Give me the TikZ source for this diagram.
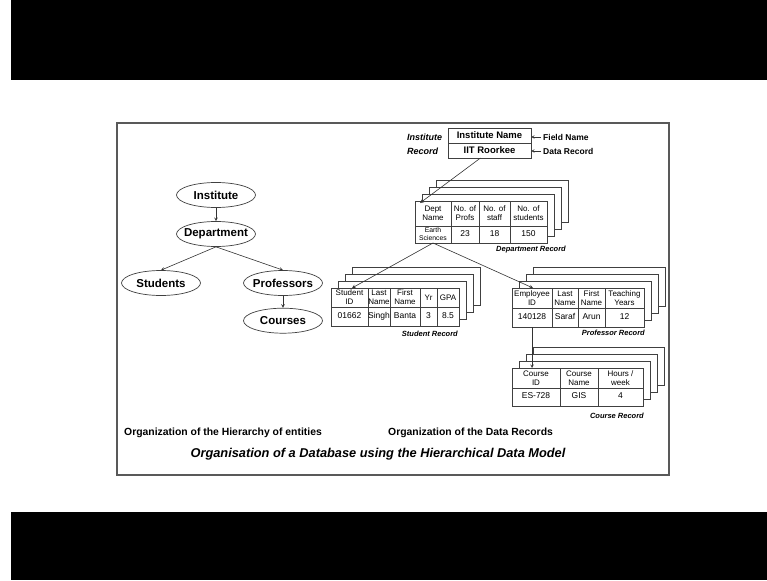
\documentclass[tikz,border=0pt]{standalone}
\usepackage{fontspec}
\setmainfont{Liberation Sans}
\usetikzlibrary{shapes.geometric,positioning}

\tikzset{
  entity/.style={ellipse, draw=black!75, line width=0.7pt, minimum width=79pt, minimum height=25pt, inner sep=0pt, font=\fontsize{11.5}{12}\selectfont\bfseries},
  cell/.style={draw=black!75, fill=white, line width=0.6pt, inner sep=0pt, outer sep=0pt, align=center, anchor=north west, font=\fontsize{8}{9}\selectfont},
  sheet/.style={draw=black!75, fill=white, line width=0.6pt},
  reclabel/.style={anchor=east, inner sep=0pt, font=\fontsize{7.5}{9}\selectfont\bfseries\itshape},
  caption/.style={anchor=west, inner sep=0pt, font=\fontsize{10.4}{12}\selectfont\bfseries},
  link/.style={->, draw=black!80, line width=0.6pt},
}

% keeps the ellipse at its minimum size
\newcommand{\ent}[1]{\makebox[40pt]{#1}}
% small two line entry in a data cell
\newcommand{\twoline}[2]{\raisebox{-4.2pt}[6pt][2pt]{\fontsize{6.8}{7}\selectfont\shortstack{#1\\#2}}}

% stack of three sheets behind a record
\newcommand{\sheetstack}[4]{%
  \foreach \k in {3,2,1}
    \draw[sheet] ({#1+7*\k},{#2-7*\k}) rectangle ({#3+7*\k},{#4-7*\k});
}

% record: prefix, top left, header height, data height, width/header/data
\newcommand{\recordtable}[5]{%
  \node[inner sep=0pt, outer sep=0pt, anchor=north east] (#1h0) at (#2) {};
  \foreach \w/\a/\b [count=\i] in {#5} {
    \pgfmathtruncatemacro{\j}{\i-1}
    \node[cell, minimum width=\w, minimum height=#3] (#1h\i) at (#1h\j.north east) {\a};
    \node[cell, minimum width=\w, minimum height=#4, font=\fontsize{8.5}{8.5}\selectfont] (#1d\i) at (#1h\i.south west) {\strut\b};
  }
}

\begin{document}
\begin{tikzpicture}[x=1pt, y=-1pt, >=stealth]
  \useasboundingbox (0,0) rectangle (767,580);
  \fill[black] (11,0) rectangle (767,80);
  \fill[black] (11,512) rectangle (767,580);
  \draw[line width=2pt, black!65] (117,123) rectangle (669,475);

  \node[entity] (inst) at (216,195) {\ent{Institute}};
  \node[entity] (dept) at (216,234) {\ent{Department}};
  \node[entity] (stud) at (161,283) {\ent{Students}};
  \node[entity] (prof) at (283,283) {\ent{Professors}};
  \node[entity, below=12pt of prof] (cour) {\ent{Courses}};

  \draw[link] (inst) -- (dept);
  \draw[link] (dept.south) -- (stud.north);
  \draw[link] (dept.south) -- (prof.north);
  \draw[link] (prof) -- (cour);

  \node[anchor=west, align=left, inner sep=0pt, font=\fontsize{9}{14}\selectfont\bfseries\itshape] (irlabel) at (407,144) {Institute\\Record};
  \node[cell, minimum width=83, minimum height=15, font=\fontsize{9.5}{10}\selectfont\bfseries] (ir1) at (448,128) {Institute Name};
  \node[cell, minimum width=83, minimum height=15, font=\fontsize{9.5}{10}\selectfont\bfseries] (ir2) at (ir1.south west) {IIT Roorkee};
  \node[anchor=west, inner sep=2pt, font=\fontsize{8.5}{10}\selectfont\bfseries] (fname) at (541,137) {Field Name};
  \node[anchor=west, inner sep=2pt, font=\fontsize{8.5}{10}\selectfont\bfseries] (dname) at (541,151) {Data Record};
  \draw[link] (fname.west) -- (fname.west -| ir1.east);
  \draw[link] (dname.west) -- (dname.west -| ir2.east);

  \sheetstack{415}{201}{547}{243}
  \recordtable{dp}{415,201}{25}{17}{36/{Dept\\Name}/{\twoline{Earth}{Sciences}}, 28/{No. of\\Profs}/23, 31/{No. of\\staff}/18, 37/{No. of\\students}/150}
  \node[reclabel] (dplabel) at (566,250) {Department Record};

  \sheetstack{331}{288}{459}{326}
  \recordtable{st}{331,288}{19}{19}{37/{Student\\ID}/01662, 22/{Last\\Name}/Singh, 30/{First\\Name}/Banta, 17/Yr/3, 22/GPA/8.5}
  \node[reclabel] (stlabel) at (458,334) {Student Record};

  \sheetstack{512}{288}{644}{327}
  \recordtable{pf}{512,288}{20}{19}{40/{Employee\\ID}/140128, 26/{Last\\Name}/Saraf, 27/{First\\Name}/Arun, 39/{Teaching\\Years}/12}
  \node[reclabel] (pflabel) at (645,333) {Professor Record};

  \sheetstack{512}{368}{643}{406}
  \recordtable{cr}{512,368}{20}{18}{48/{Course\\ID}/ES-728, 38/{Course\\Name}/GIS, 45/{Hours /\\week}/4}
  \node[reclabel] (crlabel) at (644,416) {Course Record};

  \draw[link] ([xshift=-9pt]ir2.south) -- ([xshift=5pt, yshift=-2pt]dph1.north west);
  \draw[link] (dpd1.south) -- ([xshift=21pt]sth1.north west);
  \draw[link] (dpd1.south) -- ([xshift=21pt]pfh1.north west);
  \draw[link] (pfd1.south) -- (pfd1.south |- crh1.north);

  \node[caption] (hier) at (124,433) {Organization of the Hierarchy of entities};
  \node[caption] (recs) at (388,433) {Organization of the Data Records};
  \node[font=\fontsize{12.8}{14}\selectfont\bfseries\itshape] (title) at (378,454) {Organisation of a Database using the Hierarchical Data Model};
\end{tikzpicture}
\end{document}
